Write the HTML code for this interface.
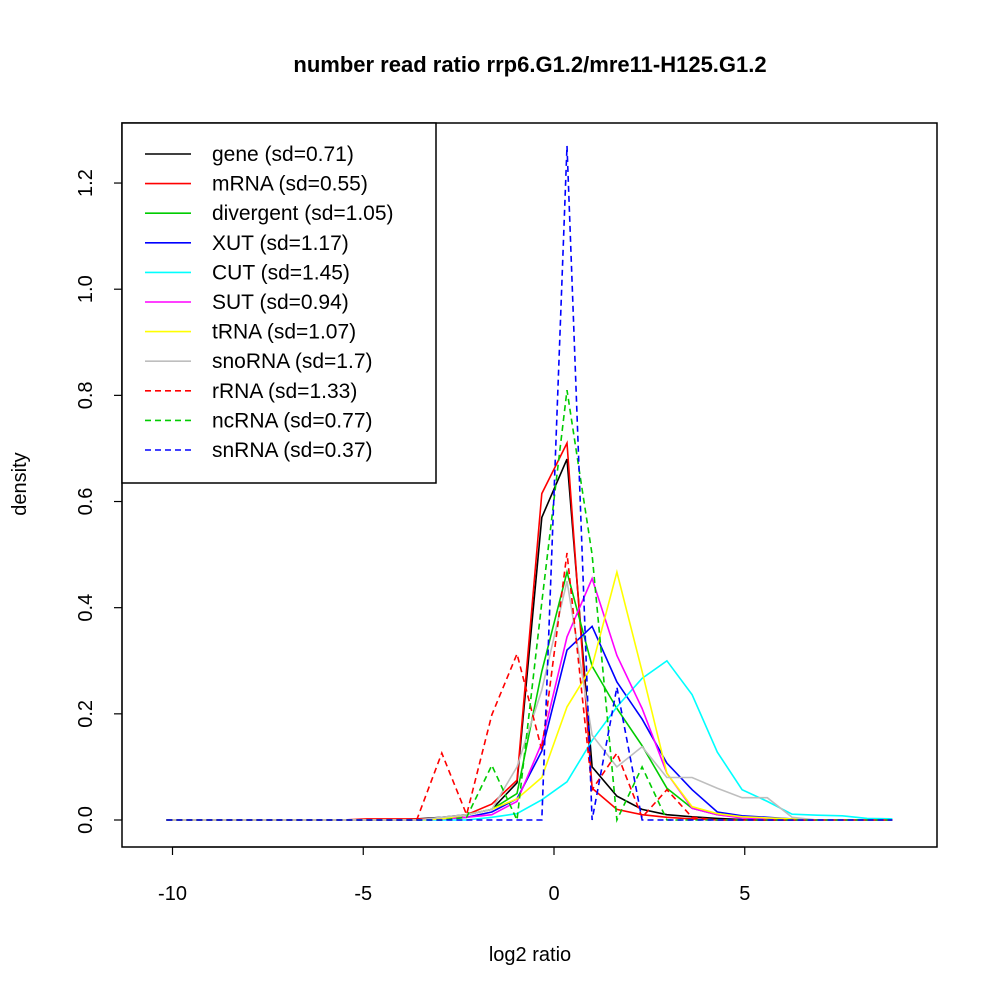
<!DOCTYPE html>
<html><head><meta charset="utf-8"><style>
html,body{margin:0;padding:0;background:#fff}
svg{display:block;font-family:"Liberation Sans",sans-serif}
</style></head><body>
<svg id="chart" width="1000" height="1000" viewBox="0 0 1000 1000">
<rect width="1000" height="1000" fill="#fff"/>
<text x="530" y="72" text-anchor="middle" font-size="22" font-weight="bold">number read ratio rrp6.G1.2/mre11-H125.G1.2</text>
<text x="530" y="961" text-anchor="middle" font-size="20">log2 ratio</text>
<text transform="translate(26,484) rotate(-90)" text-anchor="middle" font-size="20">density</text>
<g id="series"></g>
<g id="axes"></g>
<rect x="122" y="123" width="815" height="724" fill="none" stroke="#000" stroke-width="1.5"/>
<g id="legend"></g>
</svg>
<script>
const xGrid=[-10.16,-9.50,-8.85,-8.19,-7.54,-6.88,-6.22,-5.57,-4.91,-4.26,-3.60,-2.94,-2.29,-1.63,-0.97,-0.32,0.34,1.00,1.65,2.31,2.96,3.62,4.28,4.93,5.59,6.24,6.90,7.56,8.21,8.87];
const seriesNames=["gene (sd=0.71)","mRNA (sd=0.55)","divergent (sd=1.05)","XUT (sd=1.17)","CUT (sd=1.45)","SUT (sd=0.94)","tRNA (sd=1.07)","snoRNA (sd=1.7)","rRNA (sd=1.33)","ncRNA (sd=0.77)","snRNA (sd=0.37)"];
const geneVals=[0,0,0,0,0,0,0,0,0,0,0.002,0.005,0.01,0.02,0.07,0.57,0.68,0.10,0.045,0.02,0.01,0.006,0.003,0.001,0,0,0,0,0,0];
const mrnaVals=[0,0,0,0,0,0,0,0,0.002,0.002,0.002,0.003,0.01,0.03,0.075,0.615,0.71,0.06,0.02,0.01,0.005,0.002,0,0,0,0,0,0,0,0];
const divergentVals=[0,0,0,0,0,0,0,0,0,0,0,0.002,0.01,0.02,0.05,0.28,0.467,0.29,0.21,0.14,0.06,0.022,0.01,0.005,0.002,0,0,0,0,0];
const xutVals=[0,0,0,0,0,0,0,0,0,0,0,0.002,0.005,0.015,0.04,0.13,0.32,0.365,0.26,0.19,0.107,0.057,0.015,0.008,0.005,0.002,0,0,0,0];
const cutVals=[0,0,0,0,0,0,0,0,0,0,0,0,0,0.005,0.012,0.038,0.072,0.15,0.213,0.267,0.30,0.236,0.128,0.057,0.035,0.011,0.009,0.008,0.003,0.002];
const sutVals=[0,0,0,0,0,0,0,0,0,0,0,0.002,0.005,0.01,0.035,0.145,0.345,0.455,0.31,0.21,0.088,0.022,0.01,0.004,0.002,0,0,0,0,0];
const trnaVals=[0,0,0,0,0,0,0,0,0,0,0,0.002,0.01,0.02,0.04,0.08,0.213,0.29,0.467,0.28,0.088,0.025,0.012,0.006,0.004,0.002,0,0,0,0];
const snornaVals=[0,0,0,0,0,0,0,0,0,0,0,0.005,0.01,0.02,0.10,0.245,0.45,0.16,0.10,0.138,0.08,0.08,0.06,0.042,0.042,0.005,0,0,0,0];
const rrnaVals=[0,0,0,0,0,0,0,0,0,0,0,0.126,0.01,0.198,0.313,0.132,0.503,0.057,0.126,0.005,0.057,0.005,0,0,0,0,0,0,0,0];
const ncrnaVals=[0,0,0,0,0,0,0,0,0,0,0,0,0.005,0.103,0,0.41,0.81,0.5,0,0.1,0,0,0,0,0,0,0,0,0,0];
const snrnaVals=[0,0,0,0,0,0,0,0,0,0,0,0,0,0,0,0,1.27,0,0.25,0,0,0,0,0,0,0,0,0,0,0];
const xTicks=[-10,-5,0,5];
const yTicks=[0,0.2,0.4,0.6,0.8,1.0,1.2];
const yTickLabels=["0.0","0.2","0.4","0.6","0.8","1.0","1.2"];

const allVals=[geneVals,mrnaVals,divergentVals,xutVals,cutVals,sutVals,trnaVals,snornaVals,rrnaVals,ncrnaVals,snrnaVals];
const colors=["#000","#f00","#0c0","#00f","#0ff","#f0f","#ff0","#bebebe","#f00","#0c0","#00f"];
const dashed=[0,0,0,0,0,0,0,0,1,1,1];
const keys=["gene","mrna","divergent","xut","cut","sut","trna","snorna","rrna","ncrna","snrna"];
const NS="http://www.w3.org/2000/svg";
const sx=v=>554+v*38.15;
const sy=v=>820-v*530.8;
const sg=document.getElementById('series');
allVals.forEach((vals,k)=>{
  const p=document.createElementNS(NS,'polyline');
  p.setAttribute('points',vals.map((v,i)=>sx(xGrid[i]).toFixed(1)+','+sy(v).toFixed(1)).join(' '));
  p.setAttribute('fill','none');p.setAttribute('stroke',colors[k]);p.setAttribute('stroke-width','1.6');
  if(dashed[k])p.setAttribute('stroke-dasharray','6,4');
  
  
  sg.appendChild(p);
});
const ax=document.getElementById('axes');
function add(parent,tag,attrs,text){const e=document.createElementNS(NS,tag);for(const a in attrs)e.setAttribute(a,attrs[a]);if(text!==undefined)e.textContent=text;parent.appendChild(e);return e;}
const xl=add(ax,'line',{x1:sx(-10),x2:sx(5),y1:847,y2:847,stroke:'#000','stroke-width':1.2});


xTicks.forEach(t=>{
  const l=add(ax,'line',{x1:sx(t),x2:sx(t),y1:847,y2:855,stroke:'#000','stroke-width':1.2});
  
  
  const tx=add(ax,'text',{x:sx(t),y:900,'text-anchor':'middle','font-size':20},String(t));
  
  
});
const yl=add(ax,'line',{x1:122,x2:122,y1:sy(0),y2:sy(1.2),stroke:'#000','stroke-width':1.2});


yTicks.forEach((t,i)=>{
  const l=add(ax,'line',{x1:114,x2:122,y1:sy(t),y2:sy(t),stroke:'#000','stroke-width':1.2});
  
  
  const tx=add(ax,'text',{transform:'translate(92,'+sy(t)+') rotate(-90)','text-anchor':'middle','font-size':20},yTickLabels[i]);
  
  
});
const lg=document.getElementById('legend');
const box=add(lg,'rect',{x:122,y:123,width:314,height:360,fill:'#fff',stroke:'#000','stroke-width':1.5});


seriesNames.forEach((n,k)=>{
  const y=154+k*29.6;
  const l=add(lg,'line',{x1:145,x2:191,y1:y,y2:y,stroke:colors[k],'stroke-width':1.6});
  if(dashed[k])l.setAttribute('stroke-dasharray','6,4');
  
  
  const t=add(lg,'text',{x:212,y:y+7,'font-size':21},n);
  
  
});
</script>
</body></html>
